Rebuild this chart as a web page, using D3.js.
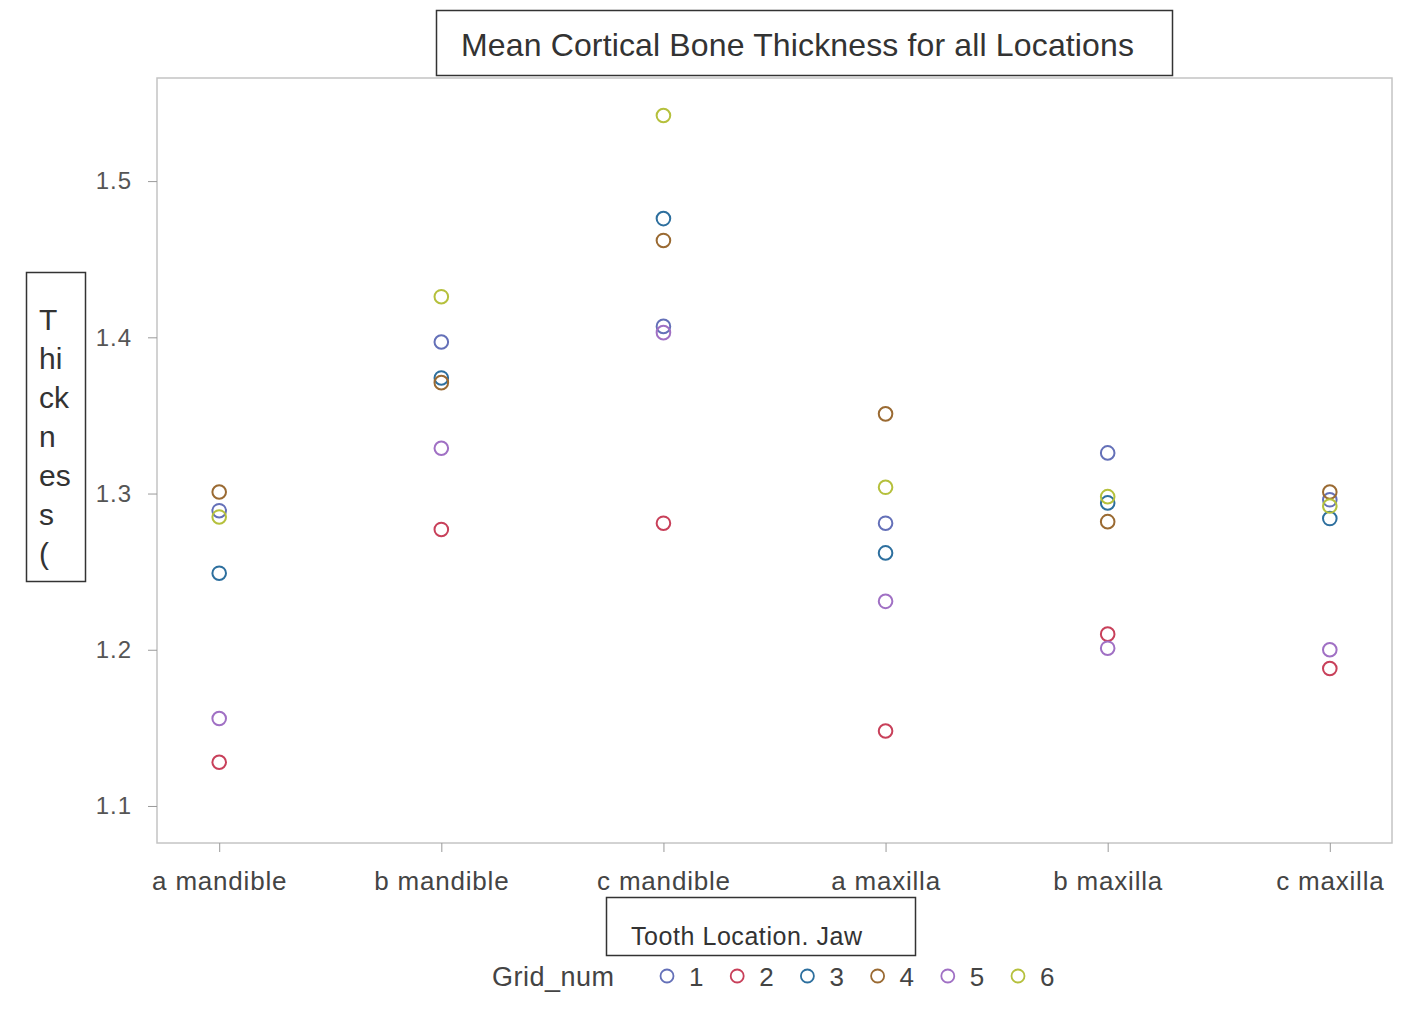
<!DOCTYPE html>
<html>
<head>
<meta charset="utf-8">
<script src="https://cdn.jsdelivr.net/npm/d3@7"></script>
<style>
  html, body { margin: 0; padding: 0; background: #fff; }
  svg { display: block; font-family: "Liberation Sans", Arial, sans-serif; }
</style>
</head>
<body>
<svg id="chart" width="1423" height="1014"></svg>
<script>
// Tooth location / jaw categories along the x axis
const locations = ["a mandible", "b mandible", "c mandible", "a maxilla", "b maxilla", "c maxilla"];

// Grid numbers (series)
const gridNums = ["1", "2", "3", "4", "5", "6"];

// Mean cortical bone thickness per grid, in the order of `locations`
const grid1 = [1.289, 1.397, 1.407, 1.281, 1.326, 1.296];
const grid2 = [1.128, 1.277, 1.281, 1.148, 1.210, 1.188];
const grid3 = [1.249, 1.374, 1.476, 1.262, 1.294, 1.284];
const grid4 = [1.301, 1.371, 1.462, 1.351, 1.282, 1.301];
const grid5 = [1.156, 1.329, 1.403, 1.231, 1.201, 1.200];
const grid6 = [1.285, 1.426, 1.542, 1.304, 1.298, 1.292];

const yTicks = [1.1, 1.2, 1.3, 1.4, 1.5];

const seriesValues = [grid1, grid2, grid3, grid4, grid5, grid6];
const gridColors = ["#6470b8", "#c8405a", "#2d6f9e", "#9a6a32", "#a070c4", "#b5c03c"];

const svg = d3.select("#chart");

// Plot frame
const plot = { left: 157, right: 1392, top: 78, bottom: 843 };

const x = d3.scalePoint()
  .domain(locations)
  .range([plot.left, plot.right])
  .padding(0.28);

const y = d3.scaleLinear()
  .domain([1.0763, 1.566])
  .range([plot.bottom, plot.top]);

const color = d3.scaleOrdinal().domain(gridNums).range(gridColors);

// Frame
svg.append("rect")
  .attr("x", plot.left).attr("y", plot.top)
  .attr("width", plot.right - plot.left)
  .attr("height", plot.bottom - plot.top)
  .attr("fill", "#fff")
  .attr("stroke", "#c4c4c4")
  .attr("stroke-width", 1.5);

// Y axis
const yAxis = svg.append("g")
  .attr("transform", `translate(${plot.left},0)`)
  .call(d3.axisLeft(y).tickValues(yTicks).tickFormat(d3.format(".1f")).tickSize(9).tickPadding(16));
yAxis.select(".domain").remove();
yAxis.selectAll(".tick line").attr("stroke", "#9a9a9a");
yAxis.selectAll(".tick text")
  .attr("fill", "#555").attr("font-size", 24).attr("letter-spacing", 1)
  .attr("font-family", "Liberation Sans, Arial, sans-serif");

// X axis
const xAxis = svg.append("g")
  .attr("transform", `translate(0,${plot.bottom})`)
  .call(d3.axisBottom(x).tickSize(9).tickPadding(20));
xAxis.select(".domain").remove();
xAxis.selectAll(".tick line").attr("stroke", "#9a9a9a");
xAxis.selectAll(".tick text")
  .attr("fill", "#444").attr("font-size", 26).attr("letter-spacing", 0.8)
  .attr("font-family", "Liberation Sans, Arial, sans-serif");

// Points
const points = [];
gridNums.forEach((g, i) => {
  locations.forEach((loc, j) => points.push({ grid: g, loc, value: seriesValues[i][j] }));
});

svg.append("g").selectAll("circle")
  .data(points)
  .join("circle")
  .attr("cx", d => x(d.loc))
  .attr("cy", d => y(d.value))
  .attr("r", 6.8)
  .attr("fill", "none")
  .attr("stroke", d => color(d.grid))
  .attr("stroke-width", 2);

// Title box
const title = svg.append("g");
title.append("rect")
  .attr("x", 436.5).attr("y", 10.5).attr("width", 736).attr("height", 65)
  .attr("fill", "#fff").attr("stroke", "#333").attr("stroke-width", 1.5);
title.append("text")
  .attr("x", 461).attr("y", 56)
  .attr("font-size", 32).attr("fill", "#333")
  .attr("textLength", 673).attr("lengthAdjust", "spacing")
  .text("Mean Cortical Bone Thickness for all Locations");

// Y label box (wrapped text)
const yLab = svg.append("g");
yLab.append("rect")
  .attr("x", 26.5).attr("y", 272.5).attr("width", 59).attr("height", 309)
  .attr("fill", "#fff").attr("stroke", "#333").attr("stroke-width", 1.5);
const yLabelLines = ["T", "hi", "ck", "n", "es", "s", "("];
yLab.append("text")
  .attr("font-size", 30).attr("fill", "#333")
  .selectAll("tspan")
  .data(yLabelLines)
  .join("tspan")
  .attr("x", 39)
  .attr("y", (d, i) => 330 + i * 39)
  .text(d => d);

// X label box
const xLab = svg.append("g");
xLab.append("rect")
  .attr("x", 606.5).attr("y", 897.5).attr("width", 309).attr("height", 58)
  .attr("fill", "#fff").attr("stroke", "#333").attr("stroke-width", 1.5);
xLab.append("text")
  .attr("x", 631).attr("y", 945)
  .attr("font-size", 25).attr("fill", "#333")
  .attr("textLength", 231).attr("lengthAdjust", "spacing")
  .text("Tooth Location. Jaw");

// Legend
const legend = svg.append("g");
legend.append("text")
  .attr("x", 492).attr("y", 986)
  .attr("font-size", 27).attr("fill", "#444")
  .attr("textLength", 122).attr("lengthAdjust", "spacing")
  .text("Grid_num");
const legendX = d3.scalePoint().domain(gridNums).range([667, 1018]);
const items = legend.selectAll("g.item")
  .data(gridNums)
  .join("g")
  .attr("class", "item")
  .attr("transform", d => `translate(${legendX(d)},976)`);
items.append("circle")
  .attr("r", 6.5)
  .attr("fill", "none")
  .attr("stroke", d => color(d))
  .attr("stroke-width", 1.8);
items.append("text")
  .attr("x", 22).attr("y", 10)
  .attr("font-size", 26).attr("fill", "#444")
  .text(d => d);
</script>
</body>
</html>
